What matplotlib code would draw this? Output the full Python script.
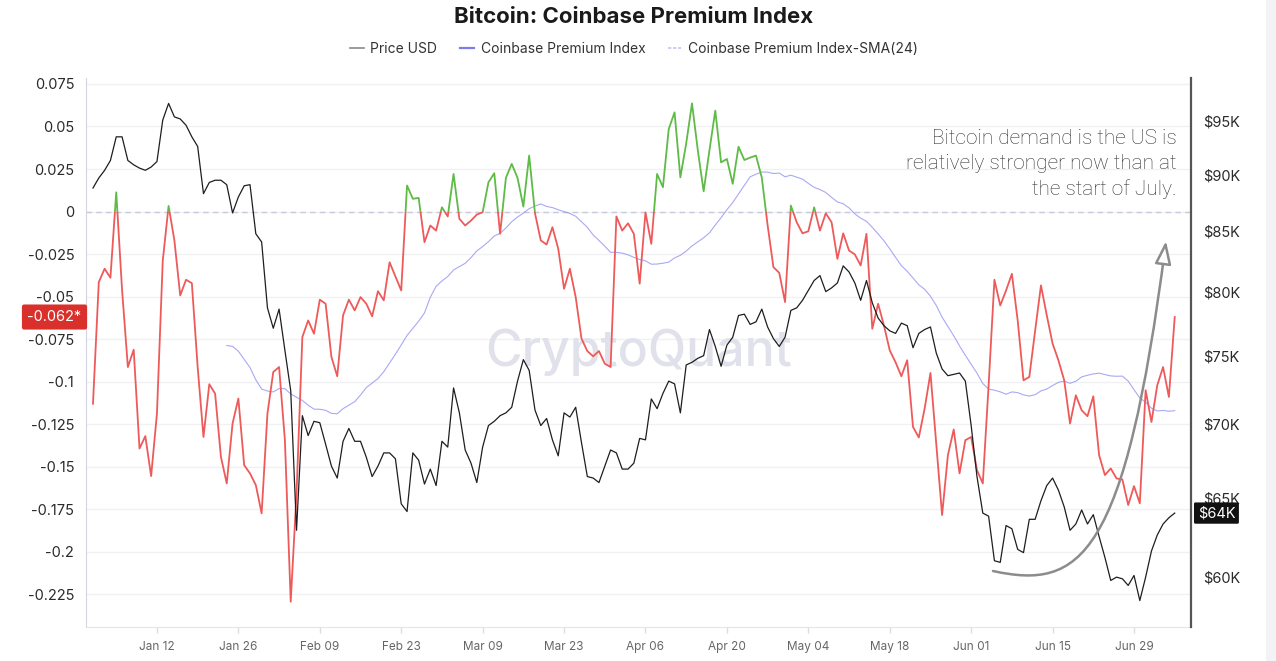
import numpy as np
import pandas as pd
import matplotlib
matplotlib.use("Agg")
import matplotlib.pyplot as plt
import matplotlib.dates as mdates
import matplotlib.transforms as mtransforms
from matplotlib.patches import Rectangle, FancyArrowPatch, ArrowStyle
from matplotlib.path import Path
from matplotlib.lines import Line2D
from matplotlib.ticker import FixedLocator, FixedFormatter, NullLocator

plt.rcParams['font.family'] = ['Inter', 'DejaVu Sans']

# ---------------- data ----------------
start_date = "2025-01-01"

price_k = [
    88.8, 89.7, 90.4, 91.3, 93.5, 93.5, 91.3, 90.9, 90.6, 90.4,
    90.7, 91.2, 95.1, 96.7, 95.4, 95.2, 94.6, 93.5, 92.6, 88.3,
    89.3, 89.5, 89.5, 89.1, 86.6, 88.0, 89.0, 89.1, 84.8, 84.1,
    78.7, 77.1, 78.6, 75.4, 72.4, 62.9, 70.6, 69.2, 70.2, 70.1,
    68.6, 67.1, 66.3, 68.8, 69.7, 68.8, 68.8, 67.7, 66.4, 67.1,
    68.0, 68.0, 67.6, 64.6, 64.1, 68.0, 67.5, 65.9, 66.9, 65.8,
    68.8, 68.4, 72.6, 70.8, 68.2, 67.3, 66.0, 68.4, 69.9, 70.2,
    70.6, 70.8, 71.2, 73.1, 74.7, 73.9, 71.0, 69.9, 70.4, 68.9,
    67.8, 70.8, 70.5, 71.2, 68.7, 66.4, 66.3, 66.0, 67.1, 68.2,
    68.0, 66.9, 66.9, 67.3, 69.0, 68.9, 71.8, 71.1, 72.2, 73.1,
    72.9, 70.8, 74.3, 74.5, 74.8, 75.0, 77.0, 75.7, 74.2, 75.8,
    76.4, 78.1, 78.2, 77.4, 77.6, 78.6, 77.2, 76.3, 75.7, 76.4,
    78.5, 78.7, 79.3, 80.1, 80.9, 81.3, 80.0, 80.3, 80.7, 82.1,
    81.6, 80.7, 79.3, 80.9, 79.1, 77.9, 77.3, 76.9, 76.7, 77.5,
    77.3, 75.6, 76.7, 77.0, 77.2, 75.2, 74.0, 73.5, 73.6, 73.7,
    73.1, 69.9, 66.4, 64.0, 63.8, 61.0, 60.9, 63.2, 63.0, 61.7,
    61.5, 63.6, 63.6, 64.8, 65.8, 66.3, 65.5, 64.4, 62.9, 63.3,
    64.2, 63.3, 63.9, 62.5, 61.2, 59.8, 60.0, 59.9, 59.5, 60.1,
    58.6, 60.0, 61.6, 62.6, 63.3, 63.7, 64.0,
]

premium = [
    -0.1130, -0.0415, -0.0336, -0.0389, 0.0113, -0.0460, -0.0914, -0.0812, -0.1393, -0.1320,
    -0.1555, -0.1187, -0.0288, 0.0033, -0.0170, -0.0493, -0.0401, -0.0421, -0.0914, -0.1325,
    -0.1015, -0.1070, -0.1442, -0.1598, -0.1246, -0.1099, -0.1491, -0.1539, -0.1608, -0.1774,
    -0.1187, -0.0943, -0.0914, -0.1344, -0.2293, -0.1657, -0.0738, -0.0640, -0.0718, -0.0518,
    -0.0542, -0.0855, -0.0968, -0.0610, -0.0518, -0.0581, -0.0503, -0.0542, -0.0616, -0.0468,
    -0.0522, -0.0298, -0.0381, -0.0464, 0.0153, 0.0075, 0.0080, -0.0180, -0.0082, -0.0112,
    0.0025, -0.0029, 0.0221, -0.0043, -0.0082, -0.0053, -0.0018, -0.0004, 0.0172, 0.0225,
    -0.0131, 0.0198, 0.0280, 0.0198, 0.0029, 0.0329, -0.0010, -0.0170, -0.0194, -0.0092,
    -0.0219, -0.0454, -0.0336, -0.0503, -0.0747, -0.0820, -0.0851, -0.0820, -0.0894, -0.0914,
    -0.0029, -0.0112, -0.0069, -0.0131, -0.0424, -0.0005, -0.0190, 0.0221, 0.0143, 0.0485,
    0.0583, 0.0201, 0.0400, 0.0636, 0.0360, 0.0119, 0.0360, 0.0593, 0.0289, 0.0309,
    0.0163, 0.0381, 0.0303, 0.0317, 0.0329, 0.0200, -0.0080, -0.0327, -0.0360, -0.0532,
    0.0035, -0.0063, -0.0128, -0.0116, 0.0025, -0.0112, -0.0010, -0.0063, -0.0278, -0.0128,
    -0.0229, -0.0252, -0.0317, -0.0131, -0.0689, -0.0542, -0.0669, -0.0816, -0.0886, -0.0968,
    -0.0874, -0.1266, -0.1328, -0.1158, -0.0949, -0.1363, -0.1784, -0.1432, -0.1281, -0.1539,
    -0.1344, -0.1325, -0.1520, -0.1598, -0.1021, -0.0401, -0.0552, -0.0464, -0.0366, -0.0640,
    -0.0992, -0.0972, -0.0700, -0.0434, -0.0610, -0.0776, -0.0874, -0.0992, -0.1246, -0.1080,
    -0.1168, -0.1203, -0.1086, -0.1432, -0.1549, -0.1510, -0.1569, -0.1575, -0.1725, -0.1614,
    -0.1715, -0.1050, -0.1237, -0.1021, -0.0914, -0.1090, -0.0620,
]

left_ticks = [0.075, 0.05, 0.025, 0.0, -0.025, -0.05, -0.075, -0.1, -0.125,
              -0.15, -0.175, -0.2, -0.225]
left_tick_labels = ["0.075", "0.05", "0.025", "0", "-0.025", "-0.05", "-0.075",
                    "-0.1", "-0.125", "-0.15", "-0.175", "-0.2", "-0.225"]
price_ticks = [60, 65, 70, 75, 80, 85, 90, 95]
price_tick_labels = ["$60K", "$65K", "$70K", "$75K", "$80K", "$85K", "$90K", "$95K"]
x_tick_dates = ["2025-01-12", "2025-01-26", "2025-02-09", "2025-02-23", "2025-03-09",
                "2025-03-23", "2025-04-06", "2025-04-20", "2025-05-04", "2025-05-18",
                "2025-06-01", "2025-06-15", "2025-06-29"]
x_tick_labels = ["Jan 12", "Jan 26", "Feb 09", "Feb 23", "Mar 09", "Mar 23", "Apr 06",
                 "Apr 20", "May 04", "May 18", "Jun 01", "Jun 15", "Jun 29"]

dates = pd.date_range(start_date, periods=len(premium), freq="D")
sma24 = pd.Series(premium).rolling(24).mean()
last_premium_label = "-0.062*"
last_price_label = "$64K"

# ---------------- figure ----------------
W, H = 1276, 661
fig = plt.figure(figsize=(W / 100, H / 100), dpi=100)
fig.patch.set_facecolor("white")


def fpx(x, y):
    return (x / W, 1 - y / H)


ax = fig.add_axes([86 / W, 1 - 627 / H, (1191 - 86) / W, (627 - 78) / H])
ax2 = ax.twinx()

xnum = mdates.date2num(dates)
x0 = xnum[0]
ax.set_xlim(x0 - 1.2, x0 + 188.8)
ax.set_ylim(-0.2442, 0.0785)

# grid
for t in left_ticks:
    ax.axhline(t, color="#f1f1f4", lw=1, zorder=0)
ax.axhline(0, color="#c9c9dc", lw=1, ls=(0, (4, 3)), zorder=1)

# watermark
ax.text(0.5, 0.5, "CryptoQuant", transform=ax.transAxes, ha="center", va="center",
        fontsize=36, fontweight="medium", color="#e0e1ea", zorder=0)

# SMA
ax.plot(xnum, sma24.values, color="#8c8cf2", lw=0.8, alpha=0.75, zorder=2)

# premium split by sign
red_line, = ax.plot(xnum, premium, color="#ee5a5a", lw=1.3, zorder=3)
green_line, = ax.plot(xnum, premium, color="#5dbb46", lw=1.3, zorder=3)
clip_neg = Rectangle((x0 - 10, -1), 400, 1, transform=ax.transData)
clip_pos = Rectangle((x0 - 10, 0), 400, 1, transform=ax.transData)
red_line.set_clip_path(clip_neg)
green_line.set_clip_path(clip_pos)

# price (log scale)
ax2.set_yscale("log")
ax2.plot(xnum, price_k, color="#1e1e1e", lw=0.9, zorder=4)
ax2.set_ylim(57.06, 99.21)
ax2.yaxis.set_major_locator(FixedLocator(price_ticks))
ax2.yaxis.set_major_formatter(FixedFormatter(price_tick_labels))
ax2.yaxis.set_minor_locator(NullLocator())
ax2.tick_params(axis="y", length=0, pad=8.5, labelsize=10.5, labelcolor="#2a2a2a")

# left axis ticks
ax.yaxis.set_major_locator(FixedLocator(left_ticks))
ax.yaxis.set_major_formatter(FixedFormatter(left_tick_labels))
ax.tick_params(axis="y", length=0, pad=8.5, labelsize=10.5, labelcolor="#2a2a2a")

# x ticks
xt = mdates.date2num(pd.to_datetime(x_tick_dates))
ax.xaxis.set_major_locator(FixedLocator(xt))
ax.xaxis.set_major_formatter(FixedFormatter(x_tick_labels))
ax.tick_params(axis="x", length=4, width=1, color="#dcdce4", pad=6,
               labelsize=8.5, labelcolor="#666666")

# spines
for a in (ax, ax2):
    a.spines["top"].set_visible(False)
ax.spines["left"].set_color("#d4d4e2")
ax.spines["bottom"].set_color("#e4e4ec")
ax.spines["right"].set_visible(False)
ax2.spines["left"].set_visible(False)
ax2.spines["bottom"].set_visible(False)
ax2.spines["right"].set_color("#555555")
ax2.spines["right"].set_linewidth(1.6)

# value badges
tr_left = mtransforms.blended_transform_factory(ax.transAxes, ax.transData)
ax.text(-0.004, premium[-1], last_premium_label, transform=tr_left, ha="right", va="center",
        fontsize=10.5, color="white", zorder=10, clip_on=False,
        bbox=dict(boxstyle="round,pad=0.38,rounding_size=0.15", fc="#d9302c", ec="none"))
tr_right = mtransforms.blended_transform_factory(ax2.transAxes, ax2.transData)
ax2.text(1.006, price_k[-1], last_price_label, transform=tr_right, ha="left", va="center",
         fontsize=10.5, color="white", zorder=10, clip_on=False,
         bbox=dict(boxstyle="round,pad=0.25,rounding_size=0.1", fc="#111111", ec="none"))

# annotation text
fig.text(*fpx(1177, 164), "Bitcoin demand is the US is\nrelatively stronger now than at\nthe start of July.",
         ha="right", va="center", multialignment="right", fontsize=15, linespacing=1.42,
         color="#333333", family=["Roboto", "DejaVu Sans"], fontweight="light")

# arrow (annotation drawing)
verts = [fpx(993, 571), fpx(1080, 590), fpx(1125, 560), fpx(1166, 241)]
codes = [Path.MOVETO, Path.CURVE4, Path.CURVE4, Path.CURVE4]
arrow = FancyArrowPatch(path=Path(verts, codes), transform=fig.transFigure,
                        arrowstyle=ArrowStyle("-|>", head_length=1.4, head_width=0.5),
                        mutation_scale=10, lw=1.8, ec="#8c8c8c", fc="white", zorder=20)
fig.add_artist(arrow)

# title and legend
fig.text(*fpx(634, 17), "Bitcoin: Coinbase Premium Index", ha="center", va="center",
         fontsize=16, fontweight="bold", color="#1a1a1a")
handles = [Line2D([], [], color="#8a8a8a", lw=1.2),
           Line2D([], [], color="#7d7df0", lw=1.6),
           Line2D([], [], color="#c4c4f6", lw=1.2, ls=(0, (2, 1)))]
labels = ["Price USD", "Coinbase Premium Index", "Coinbase Premium Index-SMA(24)"]
fig.legend(handles, labels, loc="center", bbox_to_anchor=fpx(634, 49), ncol=3,
           frameon=False, fontsize=10, handlelength=1.0, handletextpad=0.5,
           columnspacing=1.6, labelcolor="#333333")

# right edge panel
fig.add_artist(Rectangle(fpx(1266, 661), 10 / W, 1, transform=fig.transFigure,
                         fc="#f3f3f5", ec="none"))

fig.savefig("out.png", dpi=100)
